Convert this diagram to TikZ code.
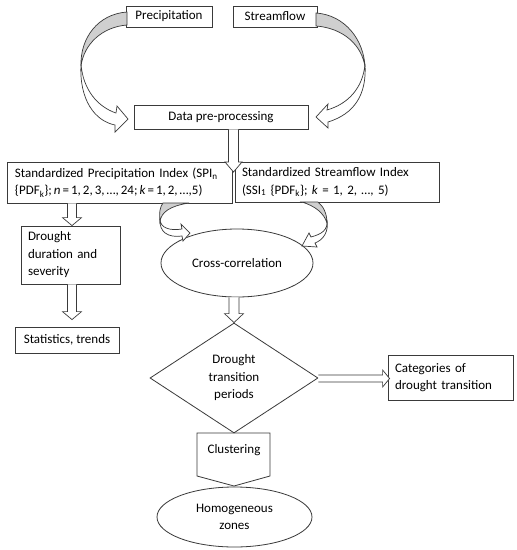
\documentclass[tikz,border=0pt]{standalone}
\usepackage{fontspec}
\setmainfont{Carlito}
\usetikzlibrary{shapes.geometric,calc}
\definecolor{ln}{HTML}{3A3A3A}
\definecolor{shadegray}{HTML}{CFCFCF}
\newcommand\blockdown[5]{%
  \draw[hollow] let \p1=(#1), \p2=(#2) in
    (\x2-#3,\y1) -- (\x2-#3,\y2+#5) -- (\x2-#4,\y2+#5) -- (\x2,\y2) --
    (\x2+#4,\y2+#5) -- (\x2+#3,\y2+#5) -- (\x2+#3,\y1);}
\newcommand\blockright[5]{%
  \draw[hollow] let \p1=(#1), \p2=(#2) in
    (\x1,\y2+#3) -- (\x2-#5,\y2+#3) -- (\x2-#5,\y2+#4) -- (\x2,\y2) --
    (\x2-#5,\y2-#4) -- (\x2-#5,\y2-#3) -- (\x1,\y2-#3);}
\begin{document}
\begin{tikzpicture}[x=1pt,y=-1pt,
  every node/.style={font=\fontsize{13}{17.5}\selectfont, text=black},
  box/.style={draw=ln, line width=0.8pt, rectangle, inner sep=0pt},
  oval/.style={draw=ln, line width=0.8pt, ellipse, inner sep=0pt},
  hollow/.style={draw=ln, fill=white, line width=0.7pt, line join=miter},
  backface/.style={draw=ln, fill=shadegray, line width=0.7pt}]
\useasboundingbox[fill=white] (0,0) rectangle (517,550);

% nodes
\node[box, minimum width=86pt, minimum height=21pt] (prec) at (169,16.5) {Precipitation};
\node[box, minimum width=84pt, minimum height=21pt] (strm) at (275,16.5) {Streamflow};
\node[box, minimum width=174pt, minimum height=24pt] (dpp) at (221,117) {Data pre-processing};
\node[box, minimum height=41pt, inner xsep=8pt, text width=209pt, align=left] (spi) at (119.5,182.5)
  {\mbox{Standardized Precipitation Index (SPI\textsubscript{n}}\\
   \mbox{\spaceskip=2pt\relax\{PDF\textsubscript{k}\}; \textit{n} = 1, 2, 3, …, 24; \textit{k} = 1, 2, …,5)}};
\node[box, minimum height=40pt, inner xsep=7pt, text width=190pt, align=left] (ssi) at (337,182)
  {Standardized Streamflow Index\\
   \mbox{(SSI\textsubscript{1} \{PDF\textsubscript{k}\}; \textit{k} = 1, 2, …, 5)}};
\node[box, minimum height=58pt, inner xsep=7pt, text width=85pt, align=left] (dds) at (70.5,255)
  {Drought\\duration and\\severity};
\node[box, minimum width=104pt, minimum height=26pt] (stat) at (67,340) {Statistics, trends};
\node[oval, minimum width=152pt, minimum height=68pt] (cc) at (237,263) {Cross-correlation};
\node[draw=ln, line width=0.8pt, diamond, inner sep=0pt, minimum width=168pt, minimum height=110pt, align=center] (dtp) at (234,378)
  {Drought\\transition\\periods};
\node[box, minimum height=45pt, inner xsep=7pt, text width=111pt, align=left] (cat) at (450.5,377.5)
  {Categories of\\drought transition};
\draw[box] (197,433) -- (270,433) -- (270,476) -- (234,486) -- (197,476) -- cycle;
\node (clu) at (234,450) {Clustering};
\node[oval, minimum width=155pt, minimum height=60pt, align=center] (hz) at (234.5,517)
  {Homogeneous\\zones};

% big curved arrows
\draw[backface] (127,12) .. controls (98,14) and (80,38) .. (81,66)
   .. controls (84,44) and (102,27) .. (127,25) -- cycle;
\draw[hollow] (81,64) .. controls (83,90) and (98,107) .. (116,113) -- (117,106) -- (128,119)
   -- (115,132) -- (115,125) .. controls (95,121) and (79,100) .. (81,64) -- cycle;
\draw[backface] (316,13) .. controls (345,15) and (364,40) .. (365,67)
   .. controls (362,45) and (343,28) .. (316,26) -- cycle;
\draw[hollow] (365,64) .. controls (363,88) and (348,104) .. (327,110) -- (328,104) -- (316,117)
   -- (328,128) -- (328,122) .. controls (354,114) and (367,95) .. (365,64) -- cycle;

% small curved arrows
\draw[backface] (163,203) -- (189,203) .. controls (170,206) and (161,212) .. (160,222)
   .. controls (159,212) and (160,207) .. (163,203) -- cycle;
\draw[hollow] (160,219) .. controls (160,228) and (170,231) .. (182,229) -- (181,224) -- (190,233)
   -- (183,241) -- (182,236) .. controls (168,238) and (159,232) .. (160,219) -- cycle;
\draw[backface] (302,202) -- (318,202) .. controls (323,206) and (327,213) .. (327,223)
   .. controls (324,213) and (315,206) .. (302,202) -- cycle;
\draw[hollow] (327,220) .. controls (328,230) and (322,234) .. (311,237) -- (309,233) -- (302,246)
   -- (317,247) -- (315,243) .. controls (323,240) and (329,232) .. (327,220) -- cycle;

% block arrows
\coordinate (t1) at (233.5,172);
\blockdown{t1 |- dpp.south}{t1}{5pt}{8.5pt}{10pt}
\coordinate (t2) at ([xshift=1.5pt]dds.north);
\blockdown{t2 |- spi.south}{t2}{4.5pt}{9.5pt}{8pt}
\coordinate (t3) at ([xshift=5pt,yshift=7pt]stat.north);
\blockdown{t3 |- dds.south}{t3}{4.5pt}{9.5pt}{8pt}
\blockdown{dtp.north |- cc.south}{dtp.north}{5pt}{9.5pt}{9pt}
\coordinate (t5) at ([xshift=2pt,yshift=-1pt]cat.west);
\blockright{dtp.east}{t5}{3.5pt}{8.5pt}{7pt}
\end{tikzpicture}
\end{document}
